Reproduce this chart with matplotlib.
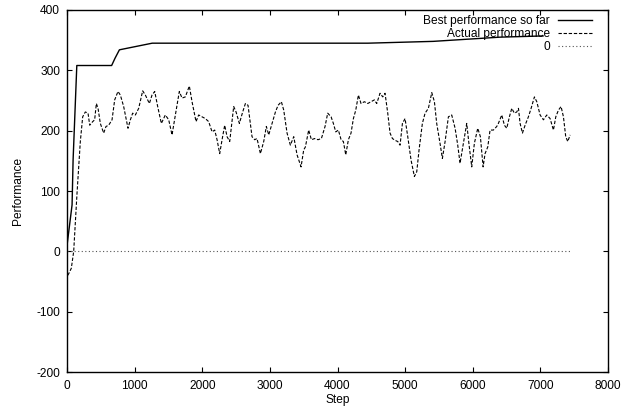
import matplotlib
matplotlib.use("Agg")
import matplotlib.pyplot as plt

plt.rcParams["font.family"] = ["Liberation Sans", "DejaVu Sans"]
plt.rcParams["font.size"] = 8.6
plt.rcParams["axes.unicode_minus"] = False

# actual performance
act_step = [0, 0, 30, 64, 99, 148, 197, 232, 271, 311, 336, 380, 409, 434, 459,
            493, 542, 577, 616, 666, 705, 754, 789, 838, 902, 937, 971, 1011,
            1060, 1119, 1159, 1218, 1257, 1297, 1341, 1395, 1454, 1504, 1553,
            1602, 1661, 1701, 1750, 1809, 1849, 1908, 1947, 1997, 2046, 2095,
            2145, 2184, 2219, 2258, 2293, 2332, 2367, 2406, 2465, 2500, 2549,
            2598, 2638, 2677, 2736, 2776, 2810, 2860, 2909, 2948, 2983, 3032,
            3082, 3121, 3170, 3205, 3254, 3303, 3353, 3402, 3461, 3500, 3525,
            3574, 3614, 3663, 3712, 3762, 3816, 3855, 3905, 3939, 3974, 4013,
            4053, 4087, 4122, 4161, 4200, 4235, 4270, 4309, 4348, 4398, 4447,
            4496, 4545, 4580, 4629, 4669, 4703, 4743, 4777, 4812, 4851, 4891,
            4925, 4960, 4999, 5039, 5088, 5137, 5172, 5206, 5255, 5295, 5344,
            5394, 5433, 5467, 5516, 5551, 5591, 5640, 5689, 5739, 5778, 5812,
            5862, 5911, 5946, 5985, 6024, 6074, 6113, 6153, 6182, 6222, 6256,
            6305, 6355, 6379, 6429, 6468, 6503, 6542, 6577, 6616, 6651, 6676,
            6700, 6735, 6774, 6823, 6863, 6912, 6947, 6996, 7045, 7095, 7144,
            7193, 7228, 7267, 7306, 7341, 7375, 7405, 7440]
act_perf = [-175, -42, -36, -28, 0, 96, 182, 223, 231, 229, 209, 215, 218, 245,
            237, 212, 196, 207, 209, 218, 251, 265, 259, 240, 204, 218, 229,
            226, 237, 266, 259, 245, 259, 265, 240, 212, 226, 218, 193, 226,
            265, 254, 256, 274, 248, 215, 226, 223, 220, 215, 198, 201, 185,
            162, 185, 209, 190, 182, 240, 231, 212, 231, 245, 242, 190, 185,
            187, 162, 182, 207, 193, 212, 231, 242, 248, 234, 196, 176, 190,
            160, 140, 168, 173, 201, 185, 187, 185, 187, 207, 229, 223, 212,
            198, 201, 185, 182, 160, 185, 196, 220, 234, 259, 245, 248, 245,
            248, 251, 245, 262, 256, 262, 229, 196, 187, 184, 182, 176, 212,
            220, 190, 151, 124, 132, 168, 212, 229, 237, 263, 248, 212, 179,
            154, 182, 223, 226, 204, 176, 146, 179, 212, 176, 140, 179, 204,
            190, 140, 162, 173, 201, 201, 207, 212, 226, 209, 204, 223, 237,
            229, 231, 237, 212, 196, 209, 223, 237, 256, 248, 226, 218, 226,
            220, 201, 223, 234, 240, 223, 190, 182, 193]

# best performance so far
best_step = [0, 0, 5, 75, 90, 145, 660, 710, 775, 1260, 4450, 5414, 6405, 7040]
best_perf = [-175, 14, 14, 77, 151, 308, 308, 320, 334, 345, 345, 348, 355, 357]

zero_step = [0, 7440]
zero_perf = [0, 0]

fig = plt.figure(figsize=(6.25, 4.08), dpi=100)
ax = fig.add_axes([0.1072, 0.0882, 0.8656, 0.8873])

ax.plot(best_step, best_perf, color="black", lw=1.0, label="Best performance so far")
ax.plot(act_step, act_perf, color="black", lw=0.8, dashes=(3, 1.6),
        label="Actual performance")
ax.plot(zero_step, zero_perf, color="#555555", lw=0.8, dashes=(1, 2.2), label="0")

ax.set_xlim(0, 8000)
ax.set_ylim(-200, 400)
ax.set_xticks(range(0, 8001, 1000))
ax.set_yticks(range(-200, 401, 100))
ax.tick_params(direction="in", length=3.6, width=0.8, top=True, right=True,
               labelsize=8.6)
ax.tick_params(axis="x", pad=6)
ax.tick_params(axis="y", pad=5)
for s in ax.spines.values():
    s.set_linewidth(1.0)

ax.set_xlabel("Step", labelpad=1)
ax.set_ylabel("Performance", labelpad=9)

ax.legend(loc="upper right", bbox_to_anchor=(0.985, 1.01), frameon=False,
          markerfirst=False, handlelength=2.8, handletextpad=0.7,
          labelspacing=0.1, borderaxespad=0.3, fontsize=8.6)
# right-align the legend texts
leg = ax.get_legend()
for t in leg.get_texts():
    t.set_ha("right")
leg._legend_box.align = "right"

fig.savefig("out.png", dpi=100)
